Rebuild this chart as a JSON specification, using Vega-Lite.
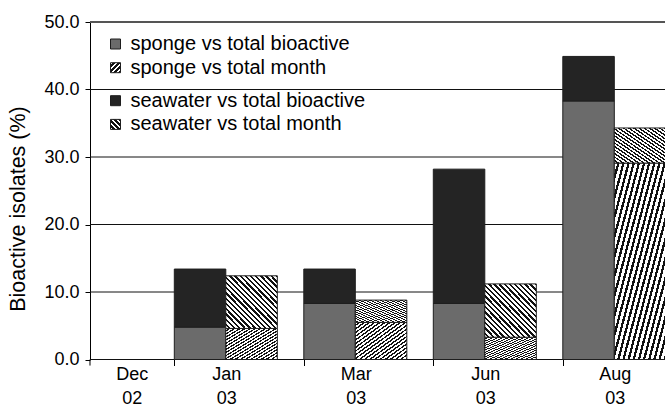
{
  "$schema": "https://vega.github.io/schema/vega-lite/v6.json",
  "width": 575,
  "height": 337.5,
  "autosize": {"type": "none"},
  "padding": {"left": 90, "top": 22, "right": 0, "bottom": 46.5},
  "background": "white",
  "config": {
    "font": "Liberation Sans",
    "view": {"stroke": null},
    "legend": {
      "labelFont": "Liberation Sans",
      "labelFontSize": 20,
      "labelColor": "black",
      "labelLimit": 400,
      "symbolType": "square",
      "symbolSize": 100,
      "symbolStrokeColor": "#1e1e1e",
      "symbolStrokeWidth": 1,
      "symbolOpacity": 1,
      "rowPadding": 3.7,
      "padding": 0,
      "labelOffset": 5,
      "titlePadding": 0
    }
  },
  "data": {
    "values": [
      {"month": "Jan 03", "basis": "total bioactive", "sponge": 4.8, "total": 13.4},
      {"month": "Jan 03", "basis": "total month", "sponge": 4.6, "total": 12.4},
      {"month": "Mar 03", "basis": "total bioactive", "sponge": 8.3, "total": 13.4},
      {"month": "Mar 03", "basis": "total month", "sponge": 5.5, "total": 8.8},
      {"month": "Jun 03", "basis": "total bioactive", "sponge": 8.3, "total": 28.2},
      {"month": "Jun 03", "basis": "total month", "sponge": 3.3, "total": 11.2},
      {"month": "Aug 03", "basis": "total bioactive", "sponge": 38.3, "total": 44.9},
      {"month": "Aug 03", "basis": "total month", "sponge": 29.1, "total": 34.3}
    ]
  },
  "layer": [
    {
      "data": {"values": [{"g": 0}, {"g": 10}, {"g": 20}, {"g": 30}, {"g": 40}, {"g": 50}]},
      "mark": {"type": "rule"},
      "encoding": {
        "y": {
          "field": "g", "type": "quantitative", "title": "Bioactive isolates (%)",
          "scale": {"domain": [0, 50], "nice": false, "zero": true},
          "axis": {
            "title": "Bioactive isolates (%)",
            "values": [0, 10, 20, 30, 40, 50], "format": ".1f",
            "labelFont": "Liberation Sans", "labelFontSize": 18, "labelColor": "black", "labelPadding": 6,
            "tickSize": 5, "tickColor": "black", "tickWidth": 1,
            "domainColor": "black", "domainWidth": 1,
            "grid": false,
            "titleFont": "Liberation Sans", "titleFontSize": 21.5, "titleFontWeight": "normal", "titleColor": "black",
            "titleX": -61, "titleY": 186.5
          }
        },
        "stroke": {"condition": {"test": "datum.g === 50", "value": "#555555"}, "value": "#111111"},
        "strokeWidth": {"condition": {"test": "datum.g === 50", "value": 2}, "value": 1}
      }
    },
    {
      "mark": {"type": "bar", "stroke": "#1e1e1e", "strokeWidth": 1},
      "encoding": {
        "x": {
          "field": "month", "type": "nominal", "title": null,
          "scale": {"domain": ["Dec 02", "Jan 03", "Mar 03", "Jun 03", "Aug 03"], "range": [-45.2, 602.3], "paddingInner": 0, "paddingOuter": 0},
          "axis": {
            "title": null, "domain": false, "grid": false,
            "ticks": true, "tickSize": 6, "tickWidth": 1, "tickOffset": -64.75,
            "tickColor": {"condition": {"test": "datum.value === 'Dec 02'", "value": "transparent"}, "value": "black"},
            "labelExpr": "split(datum.label, ' ')",
            "labelFont": "Liberation Sans", "labelFontSize": 18, "labelColor": "black",
            "labelAngle": 0, "labelAlign": "center", "labelBaseline": "top", "labelLineHeight": 23.5,
            "labelPadding": 0, "labelOverlap": false, "labelBound": false, "labelFlush": false,
            "labelOffset": {"condition": {"test": "datum.value === 'Dec 02'", "value": 87}, "value": 52}
          }
        },
        "xOffset": {
          "field": "basis", "type": "nominal",
          "scale": {"domain": ["total bioactive", "total month"], "paddingInner": 0, "paddingOuter": 0.257, "align": 0}
        },
        "y": {"field": "sponge", "type": "quantitative", "stack": null, "title": "Bioactive isolates (%)"},
        "fill": {
          "condition": {
            "test": "datum.basis === 'total month'",
            "value": {"gradient": "linear", "x1": 0, "y1": 0, "x2": 1, "y2": 1, "stops": [
              {"offset": 0, "color": "#fff"}, {"offset": 0.0275, "color": "#fff"}, {"offset": 0.0275, "color": "#111"}, {"offset": 0.05, "color": "#111"},
              {"offset": 0.05, "color": "#fff"}, {"offset": 0.0775, "color": "#fff"}, {"offset": 0.0775, "color": "#111"}, {"offset": 0.1, "color": "#111"},
              {"offset": 0.1, "color": "#fff"}, {"offset": 0.1275, "color": "#fff"}, {"offset": 0.1275, "color": "#111"}, {"offset": 0.15, "color": "#111"},
              {"offset": 0.15, "color": "#fff"}, {"offset": 0.1775, "color": "#fff"}, {"offset": 0.1775, "color": "#111"}, {"offset": 0.2, "color": "#111"},
              {"offset": 0.2, "color": "#fff"}, {"offset": 0.2275, "color": "#fff"}, {"offset": 0.2275, "color": "#111"}, {"offset": 0.25, "color": "#111"},
              {"offset": 0.25, "color": "#fff"}, {"offset": 0.2775, "color": "#fff"}, {"offset": 0.2775, "color": "#111"}, {"offset": 0.3, "color": "#111"},
              {"offset": 0.3, "color": "#fff"}, {"offset": 0.3275, "color": "#fff"}, {"offset": 0.3275, "color": "#111"}, {"offset": 0.35, "color": "#111"},
              {"offset": 0.35, "color": "#fff"}, {"offset": 0.3775, "color": "#fff"}, {"offset": 0.3775, "color": "#111"}, {"offset": 0.4, "color": "#111"},
              {"offset": 0.4, "color": "#fff"}, {"offset": 0.4275, "color": "#fff"}, {"offset": 0.4275, "color": "#111"}, {"offset": 0.45, "color": "#111"},
              {"offset": 0.45, "color": "#fff"}, {"offset": 0.4775, "color": "#fff"}, {"offset": 0.4775, "color": "#111"}, {"offset": 0.5, "color": "#111"},
              {"offset": 0.5, "color": "#fff"}, {"offset": 0.5275, "color": "#fff"}, {"offset": 0.5275, "color": "#111"}, {"offset": 0.55, "color": "#111"},
              {"offset": 0.55, "color": "#fff"}, {"offset": 0.5775, "color": "#fff"}, {"offset": 0.5775, "color": "#111"}, {"offset": 0.6, "color": "#111"},
              {"offset": 0.6, "color": "#fff"}, {"offset": 0.6275, "color": "#fff"}, {"offset": 0.6275, "color": "#111"}, {"offset": 0.65, "color": "#111"},
              {"offset": 0.65, "color": "#fff"}, {"offset": 0.6775, "color": "#fff"}, {"offset": 0.6775, "color": "#111"}, {"offset": 0.7, "color": "#111"},
              {"offset": 0.7, "color": "#fff"}, {"offset": 0.7275, "color": "#fff"}, {"offset": 0.7275, "color": "#111"}, {"offset": 0.75, "color": "#111"},
              {"offset": 0.75, "color": "#fff"}, {"offset": 0.7775, "color": "#fff"}, {"offset": 0.7775, "color": "#111"}, {"offset": 0.8, "color": "#111"},
              {"offset": 0.8, "color": "#fff"}, {"offset": 0.8275, "color": "#fff"}, {"offset": 0.8275, "color": "#111"}, {"offset": 0.85, "color": "#111"},
              {"offset": 0.85, "color": "#fff"}, {"offset": 0.8775, "color": "#fff"}, {"offset": 0.8775, "color": "#111"}, {"offset": 0.9, "color": "#111"},
              {"offset": 0.9, "color": "#fff"}, {"offset": 0.9275, "color": "#fff"}, {"offset": 0.9275, "color": "#111"}, {"offset": 0.95, "color": "#111"},
              {"offset": 0.95, "color": "#fff"}, {"offset": 0.9775, "color": "#fff"}, {"offset": 0.9775, "color": "#111"}, {"offset": 1, "color": "#111"}
            ]}
          },
          "field": "basis", "type": "nominal",
          "scale": {
            "domain": ["total bioactive", "total month"],
            "range": [
              "#6b6b6b",
              {"expr": "{gradient: 'linear', x1: 0, y1: 0, x2: 1, y2: 1, stops: [{offset: 0, color: '#fff'}, {offset: 0.1375, color: '#fff'}, {offset: 0.1375, color: '#111'}, {offset: 0.25, color: '#111'}, {offset: 0.25, color: '#fff'}, {offset: 0.3875, color: '#fff'}, {offset: 0.3875, color: '#111'}, {offset: 0.5, color: '#111'}, {offset: 0.5, color: '#fff'}, {offset: 0.6375, color: '#fff'}, {offset: 0.6375, color: '#111'}, {offset: 0.75, color: '#111'}, {offset: 0.75, color: '#fff'}, {offset: 0.8875, color: '#fff'}, {offset: 0.8875, color: '#111'}, {offset: 1, color: '#111'}]}"}
            ]
          },
          "legend": {"title": null, "labelExpr": "'sponge vs ' + datum.label", "orient": "none", "legendX": 15.5, "legendY": 12}
        }
      }
    },
    {
      "mark": {"type": "bar", "stroke": "#1e1e1e", "strokeWidth": 1},
      "encoding": {
        "x": {"field": "month", "type": "nominal", "title": null},
        "xOffset": {"field": "basis", "type": "nominal"},
        "y": {"field": "sponge", "type": "quantitative", "title": "Bioactive isolates (%)"},
        "y2": {"field": "total"},
        "fill": {
          "condition": {
            "test": "datum.basis === 'total month'",
            "value": {"gradient": "linear", "x1": 0, "y1": 1, "x2": 1, "y2": 0, "stops": [
              {"offset": 0, "color": "#fff"}, {"offset": 0.0275, "color": "#fff"}, {"offset": 0.0275, "color": "#111"}, {"offset": 0.05, "color": "#111"},
              {"offset": 0.05, "color": "#fff"}, {"offset": 0.0775, "color": "#fff"}, {"offset": 0.0775, "color": "#111"}, {"offset": 0.1, "color": "#111"},
              {"offset": 0.1, "color": "#fff"}, {"offset": 0.1275, "color": "#fff"}, {"offset": 0.1275, "color": "#111"}, {"offset": 0.15, "color": "#111"},
              {"offset": 0.15, "color": "#fff"}, {"offset": 0.1775, "color": "#fff"}, {"offset": 0.1775, "color": "#111"}, {"offset": 0.2, "color": "#111"},
              {"offset": 0.2, "color": "#fff"}, {"offset": 0.2275, "color": "#fff"}, {"offset": 0.2275, "color": "#111"}, {"offset": 0.25, "color": "#111"},
              {"offset": 0.25, "color": "#fff"}, {"offset": 0.2775, "color": "#fff"}, {"offset": 0.2775, "color": "#111"}, {"offset": 0.3, "color": "#111"},
              {"offset": 0.3, "color": "#fff"}, {"offset": 0.3275, "color": "#fff"}, {"offset": 0.3275, "color": "#111"}, {"offset": 0.35, "color": "#111"},
              {"offset": 0.35, "color": "#fff"}, {"offset": 0.3775, "color": "#fff"}, {"offset": 0.3775, "color": "#111"}, {"offset": 0.4, "color": "#111"},
              {"offset": 0.4, "color": "#fff"}, {"offset": 0.4275, "color": "#fff"}, {"offset": 0.4275, "color": "#111"}, {"offset": 0.45, "color": "#111"},
              {"offset": 0.45, "color": "#fff"}, {"offset": 0.4775, "color": "#fff"}, {"offset": 0.4775, "color": "#111"}, {"offset": 0.5, "color": "#111"},
              {"offset": 0.5, "color": "#fff"}, {"offset": 0.5275, "color": "#fff"}, {"offset": 0.5275, "color": "#111"}, {"offset": 0.55, "color": "#111"},
              {"offset": 0.55, "color": "#fff"}, {"offset": 0.5775, "color": "#fff"}, {"offset": 0.5775, "color": "#111"}, {"offset": 0.6, "color": "#111"},
              {"offset": 0.6, "color": "#fff"}, {"offset": 0.6275, "color": "#fff"}, {"offset": 0.6275, "color": "#111"}, {"offset": 0.65, "color": "#111"},
              {"offset": 0.65, "color": "#fff"}, {"offset": 0.6775, "color": "#fff"}, {"offset": 0.6775, "color": "#111"}, {"offset": 0.7, "color": "#111"},
              {"offset": 0.7, "color": "#fff"}, {"offset": 0.7275, "color": "#fff"}, {"offset": 0.7275, "color": "#111"}, {"offset": 0.75, "color": "#111"},
              {"offset": 0.75, "color": "#fff"}, {"offset": 0.7775, "color": "#fff"}, {"offset": 0.7775, "color": "#111"}, {"offset": 0.8, "color": "#111"},
              {"offset": 0.8, "color": "#fff"}, {"offset": 0.8275, "color": "#fff"}, {"offset": 0.8275, "color": "#111"}, {"offset": 0.85, "color": "#111"},
              {"offset": 0.85, "color": "#fff"}, {"offset": 0.8775, "color": "#fff"}, {"offset": 0.8775, "color": "#111"}, {"offset": 0.9, "color": "#111"},
              {"offset": 0.9, "color": "#fff"}, {"offset": 0.9275, "color": "#fff"}, {"offset": 0.9275, "color": "#111"}, {"offset": 0.95, "color": "#111"},
              {"offset": 0.95, "color": "#fff"}, {"offset": 0.9775, "color": "#fff"}, {"offset": 0.9775, "color": "#111"}, {"offset": 1, "color": "#111"}
            ]}
          },
          "field": "basis", "type": "nominal",
          "scale": {
            "domain": ["total bioactive", "total month"],
            "range": [
              "#242424",
              {"expr": "{gradient: 'linear', x1: 0, y1: 1, x2: 1, y2: 0, stops: [{offset: 0, color: '#fff'}, {offset: 0.1375, color: '#fff'}, {offset: 0.1375, color: '#111'}, {offset: 0.25, color: '#111'}, {offset: 0.25, color: '#fff'}, {offset: 0.3875, color: '#fff'}, {offset: 0.3875, color: '#111'}, {offset: 0.5, color: '#111'}, {offset: 0.5, color: '#fff'}, {offset: 0.6375, color: '#fff'}, {offset: 0.6375, color: '#111'}, {offset: 0.75, color: '#111'}, {offset: 0.75, color: '#fff'}, {offset: 0.8875, color: '#fff'}, {offset: 0.8875, color: '#111'}, {offset: 1, color: '#111'}]}"}
            ]
          },
          "legend": {"title": null, "labelExpr": "'seawater vs ' + datum.label", "orient": "none", "legendX": 15.5, "legendY": 68.7}
        }
      }
    },
    {
      "data": {"values": [{}]},
      "mark": {"type": "rule", "color": "black", "strokeWidth": 1},
      "encoding": {
        "x": {"datum": "Dec 02", "type": "nominal", "bandPosition": 0.349, "title": null},
        "y": {"datum": 0, "type": "quantitative", "title": "Bioactive isolates (%)"},
        "y2": {"datum": -0.9}
      }
    }
  ],
  "resolve": {"scale": {"fill": "independent"}, "legend": {"fill": "independent"}}
}
